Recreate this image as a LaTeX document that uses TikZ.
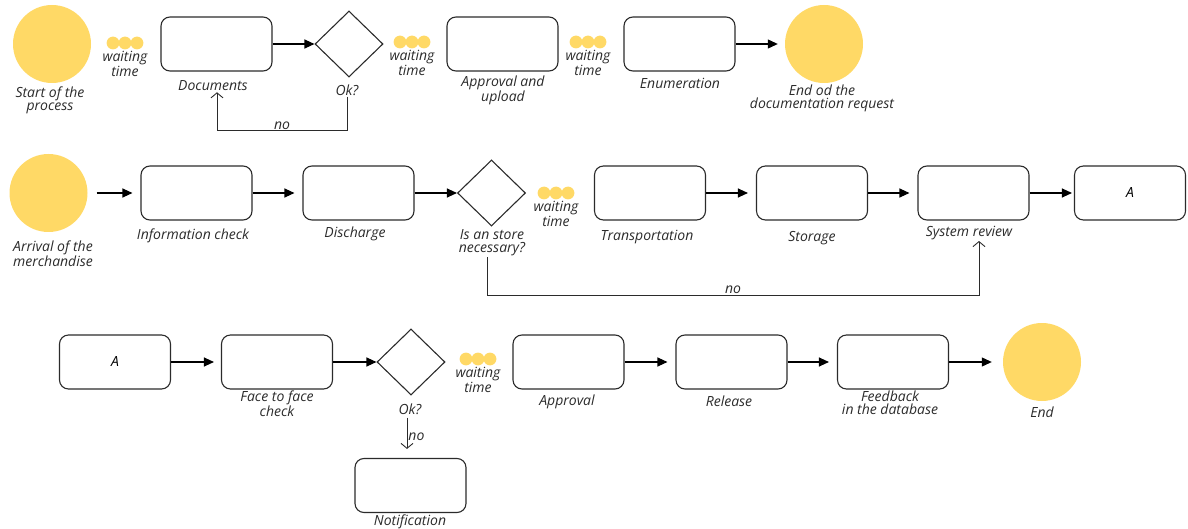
\documentclass[tikz,border=0pt]{standalone}
\usepackage{fontspec}
\setmainfont{Open Sans}
\usetikzlibrary{arrows.meta, shapes.geometric}

\definecolor{evyellow}{HTML}{FFD966}
\definecolor{inkgray}{HTML}{2B2B2B}

\begin{document}
\begin{tikzpicture}[x=1pt, y=-1pt,
    task/.style={draw=inkgray, line width=1.1pt, rounded corners=9pt,
        minimum width=111pt, minimum height=54pt, inner sep=0pt,
        font=\itshape\fontsize{14}{13}\selectfont},
    gate/.style={diamond, draw=inkgray, line width=1.1pt,
        minimum width=68pt, minimum height=66pt, inner sep=0pt},
    event/.style={circle, fill=evyellow, minimum size=78pt, inner sep=0pt},
    lbl/.style={font=\itshape\fontsize{14}{13}\selectfont, align=center,
        text=inkgray, inner sep=1pt},
    flow/.style={-{Triangle[length=10pt,width=9pt]}, line width=1.1pt},
    back/.style={-{Straight Barb[length=5pt,width=12pt]}, line width=0.9pt, draw=inkgray},
    dot/.style={fill=evyellow}]

    \useasboundingbox (0,0) rectangle (1188,529);

    % --- First row: documentation request ---
    \node[event] (start)  at (52,44)    {};
    \node[task]  (docs)   at (216.5,44) {};
    \node[gate]  (okA)    at (349,44)   {};
    \node[task]  (upload) at (502.5,44) {};
    \node[task]  (enum)   at (679.5,44) {};
    \node[event] (endDoc) at (824,44)   {};

    \node[lbl] (lStart)  at (50,100)  {Start of the\\process};
    \node[lbl] (lDocs)   at (213,86)  {Documents};
    \node[lbl] (lOkA)    at (347,90)  {Ok?};
    \node[lbl] (lUpload) at (503,90)  {Approval and\\upload};
    \node[lbl] (lEnum)   at (680,83)  {Enumeration};
    \node[lbl] (lEndDoc) at (822,98)  {End od the\\documentation request};

    % --- Second row: merchandise ---
    \node[event] (arrival) at (48.5,193) {};
    \node[task]  (info)    at (196.5,193) {};
    \node[task]  (disch)   at (358.5,193) {};
    \node[gate]  (store)   at (491.5,193) {};
    \node[task]  (trans)   at (650,193)   {};
    \node[task]  (storage) at (812,193)   {};
    \node[task]  (review)  at (973.5,193) {};
    \node[task]  (aOut)    at (1130,193)  {A};

    \node[lbl] (lArrival) at (53,254)  {Arrival of the\\merchandise};
    \node[lbl] (lInfo)    at (193,236) {Information check};
    \node[lbl] (lDisch)   at (355,234) {Discharge};
    \node[lbl] (lStore)   at (492,243) {Is an store\\necessary?};
    \node[lbl] (lTrans)   at (647,237) {Transportation};
    \node[lbl] (lStorage) at (812,238) {Storage};
    \node[lbl] (lReview)  at (969,233) {System review};

    % --- Third row: release ---
    \node[task]  (aIn)      at (115,362)   {A};
    \node[task]  (face)     at (277,362)   {};
    \node[gate]  (okC)      at (411,362)   {};
    \node[task]  (notif)    at (410.5,485.5) {};
    \node[task]  (approval) at (568.5,362) {};
    \node[task]  (release)  at (731.5,362) {};
    \node[task]  (feedback) at (893,362)   {};
    \node[event] (finish)   at (1042,362)  {};

    \node[lbl] (lFace)     at (277,404)  {Face to face\\check};
    \node[lbl] (lOkC)      at (410,409)  {Ok?};
    \node[lbl] (lNotif)    at (410,522)  {Notification};
    \node[lbl] (lApproval) at (567,402)  {Approval};
    \node[lbl] (lRelease)  at (729,401)  {Release};
    \node[lbl] (lFeedback) at (890,403)  {Feedback\\in the database};
    \node[lbl] (lFinish)   at (1042,412) {End};

    % --- Waiting times ---
    \foreach \wx/\wy/\wn in {125/43/wA, 412/42/wB, 588/42/wC, 556/193/wD, 478/359/wE} {
        \foreach \dx in {-12,0,12}
            \fill[dot] (\wx+\dx,\wy) circle (6.4);
        \node[lbl] (\wn) at (\wx,\wy+21) {waiting\\time};
    }

    % --- Flows ---
    \draw[flow] (docs) -- (okA);
    \draw[flow, shorten >=7pt] (enum) -- (endDoc);

    \draw[flow, shorten <=9pt, shorten >=8pt] (arrival) -- (info);
    \draw[flow, shorten >=8pt] (info) -- (disch);
    \draw[flow] (disch) -- (store);
    \draw[flow, shorten >=8pt] (trans) -- (storage);
    \draw[flow, shorten >=8pt] (storage) -- (review);
    \draw[flow, shorten >=2pt] (review) -- (aOut);

    \draw[flow, shorten >=7pt] (aIn) -- (face);
    \draw[flow] (face) -- (okC);
    \draw[flow, shorten >=8pt] (approval) -- (release);
    \draw[flow, shorten >=8pt] (release) -- (feedback);
    \draw[flow, shorten >=11pt] (feedback) -- (finish);

    % --- "no" branches ---
    \draw[back] (lOkA.south) -- ++(0,34) -| ([xshift=4pt]lDocs.south)
        node[pos=0.25, above, lbl] (nA) {no};
    \draw[back] ([xshift=-5pt]lStore.south) -- ++(0,38) -| ([xshift=10pt]lReview.south)
        node[pos=0.25, above, lbl] (nB) {no};
    \draw[back, shorten <=2pt, shorten >=9pt] ([xshift=-3pt]lOkC.south) -- ([xshift=-3pt]lOkC.south |- notif.north)
        node[midway, right, lbl] (nC) {no};

\end{tikzpicture}
\end{document}
